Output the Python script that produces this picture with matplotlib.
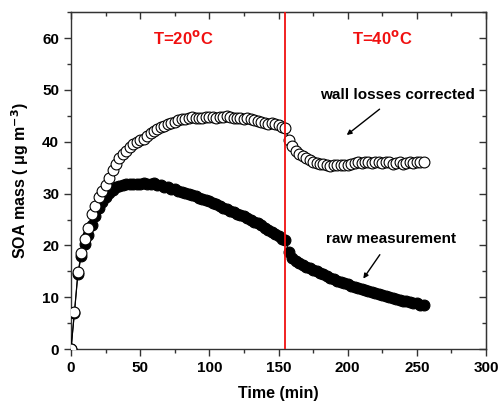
#!/usr/bin/env python3
"""SOA mass vs time: raw measurement and wall-loss corrected."""

import matplotlib

matplotlib.use("Agg")
import matplotlib.pyplot as plt
from matplotlib.ticker import MultipleLocator

plt.rcParams["font.family"] = ["Liberation Sans", "DejaVu Sans"]
plt.rcParams["font.weight"] = "bold"

time_min = [
    0, 2.5, 5, 7.5, 10, 12.5, 15, 17.5, 20, 22.5, 25, 27.5, 30, 32.5, 35, 37.5,
    40, 42.5, 45, 47.5, 50, 52.5, 55, 57.5, 60, 62.5, 65, 67.5, 70, 72.5, 75, 77.5,
    80, 82.5, 85, 87.5, 90, 92.5, 95, 97.5, 100, 102.5, 105, 107.5, 110, 112.5, 115, 117.5,
    120, 122.5, 125, 127.5, 130, 132.5, 135, 137.5, 140, 142.5, 145, 147.5, 150, 152.5, 155, 157.5,
    160, 162.5, 165, 167.5, 170, 172.5, 175, 177.5, 180, 182.5, 185, 187.5, 190, 192.5, 195, 197.5,
    200, 202.5, 205, 207.5, 210, 212.5, 215, 217.5, 220, 222.5, 225, 227.5, 230, 232.5, 235, 237.5,
    240, 242.5, 245, 247.5, 250, 252.5, 255,
]

corrected = [
    0.0, 7.2, 14.8, 18.5, 21.2, 23.3, 26.0, 27.7, 29.3, 30.5, 31.7, 33.0, 34.5, 35.8, 36.8, 37.6,
    38.3, 38.9, 39.5, 40.0, 40.3, 40.6, 41.2, 41.7, 42.0, 42.4, 42.8, 43.1, 43.4, 43.7, 43.9, 44.1,
    44.3, 44.4, 44.6, 44.7, 44.5, 44.6, 44.5, 44.7, 44.8, 44.8, 44.6, 44.7, 44.8, 45.0, 44.7, 44.5,
    44.5, 44.6, 44.4, 44.5, 44.3, 44.2, 44.0, 43.8, 43.7, 43.5, 43.6, 43.4, 43.2, 42.9, 42.6, 40.3,
    39.1, 38.2, 37.6, 37.2, 36.8, 36.4, 36.1, 35.9, 35.7, 35.8, 35.5, 35.4, 35.5, 35.5, 35.6, 35.5,
    35.6, 35.8, 35.9, 36.0, 35.9, 36.1, 36.0, 35.9, 36.0, 36.1, 35.9, 36.0, 36.0, 35.8, 35.9, 36.0,
    35.8, 35.9, 36.0, 35.9, 36.0, 36.0, 36.0,
]

raw = [
    0.0, 7.0, 14.5, 18.0, 20.2, 22.0, 24.0, 25.7, 27.2, 28.3, 29.3, 30.1, 30.7, 31.2, 31.5, 31.7,
    31.8, 31.8, 31.9, 31.8, 31.9, 32.0, 31.9, 31.9, 32.0, 31.7, 31.6, 31.3, 31.2, 30.9, 30.8, 30.5,
    30.4, 30.1, 30.0, 29.7, 29.5, 29.2, 28.9, 28.7, 28.5, 28.2, 28.0, 27.6, 27.3, 27.0, 26.7, 26.5,
    26.1, 25.8, 25.6, 25.3, 25.0, 24.6, 24.3, 23.9, 23.4, 23.0, 22.6, 22.2, 21.8, 21.3, 21.0, 18.8,
    17.6, 17.0, 16.6, 16.2, 15.9, 15.6, 15.3, 15.0, 14.7, 14.4, 14.1, 13.8, 13.5, 13.2, 13.0, 12.7,
    12.5, 12.2, 12.0, 11.8, 11.6, 11.4, 11.2, 11.0, 10.8, 10.6, 10.4, 10.2, 10.1, 9.9, 9.7, 9.5,
    9.3, 9.2, 9.1, 8.9, 8.8, 8.6, 8.5,
]

T_SWITCH = 155
RED = "#f01010"

fig = plt.figure(figsize=(5.0, 4.05), dpi=100)
ax = fig.add_axes([0.142, 0.138, 0.830, 0.832])

ax.plot(time_min, raw, "-o", color="black", lw=0.8, ms=7.8, mfc="black", mec="black", mew=0.8, zorder=3)
ax.plot(time_min, corrected, "-o", color="black", lw=0.8, ms=7.8, mfc="white", mec="black", mew=0.8, zorder=4)

ax.axvline(T_SWITCH, color=RED, lw=1.3, zorder=5)

ax.text(81, 60, "T=20$^{\\mathbf{o}}$C", color=RED, fontsize=12, fontweight="bold", ha="center", va="center")
ax.text(225, 60, "T=40$^{\\mathbf{o}}$C", color=RED, fontsize=12, fontweight="bold", ha="center", va="center")

ax.annotate("wall losses corrected", xy=(199.3, 41.3), xytext=(236, 49), fontsize=11, fontweight="bold",
            ha="center", va="center",
            arrowprops={"arrowstyle": "-|>", "lw": 1.0, "color": "black", "shrinkA": 5, "shrinkB": 0,
                        "mutation_scale": 7})
ax.annotate("raw measurement", xy=(211.3, 13.6), xytext=(231, 21.2), fontsize=11, fontweight="bold",
            ha="center", va="center",
            arrowprops={"arrowstyle": "-|>", "lw": 1.0, "color": "black", "shrinkA": 5, "shrinkB": 0,
                        "mutation_scale": 7})

ax.set_xlim(0, 300)
ax.set_ylim(0, 65)
ax.xaxis.set_major_locator(MultipleLocator(50))
ax.xaxis.set_minor_locator(MultipleLocator(25))
ax.yaxis.set_major_locator(MultipleLocator(10))
ax.yaxis.set_minor_locator(MultipleLocator(5))

for side in ax.spines.values():
    side.set_linewidth(1.0)
    side.set_color("#333333")

ax.tick_params(which="both", direction="out", top=False, right=False, labelsize=11, width=1.0, color="#333333")
ax.tick_params(which="major", length=5)
ax.tick_params(which="minor", length=3)

top = ax.secondary_xaxis("top")
top.set_xticks(range(0, 301, 50))
top.xaxis.set_minor_locator(MultipleLocator(25))
top.tick_params(which="both", direction="in", labeltop=False, width=1.0, color="#333333")
top.tick_params(which="major", length=5)
top.tick_params(which="minor", length=3)
right = ax.secondary_yaxis("right")
right.set_yticks(range(0, 61, 10))
right.yaxis.set_minor_locator(MultipleLocator(5))
right.tick_params(which="both", direction="in", labelright=False, width=1.0, color="#333333")
right.tick_params(which="major", length=5)
right.tick_params(which="minor", length=3)

for lab in ax.get_xticklabels() + ax.get_yticklabels():
    lab.set_fontweight("bold")

ax.set_xlabel("Time (min)", fontsize=11.5, fontweight="bold", labelpad=8)
ax.set_ylabel("SOA mass ( \u03bcg m$^{\\mathbf{-3}}$)", fontsize=11.5, fontweight="bold", labelpad=8)

fig.savefig("out.png", dpi=100)
